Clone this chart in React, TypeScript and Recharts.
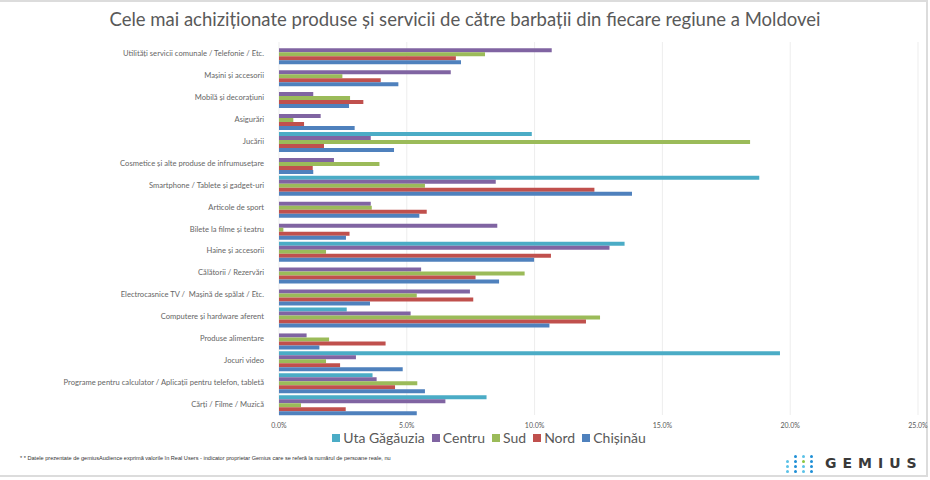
import React from 'react';
import { BarChart, Bar, XAxis, YAxis, CartesianGrid } from 'recharts';

const categories = [
  'Utilități servicii comunale / Telefonie / Etc.',
  'Mașini și accesorii',
  'Mobilă și decorațiuni',
  'Asigurări',
  'Jucării',
  'Cosmetice și alte produse de infrumusețare',
  'Smartphone / Tablete și gadget-uri',
  'Articole de sport',
  'Bilete la filme și teatru',
  'Haine și accesorii',
  'Călătorii / Rezervări',
  'Electrocasnice TV /  Mașină de spălat / Etc.',
  'Computere și hardware aferent',
  'Produse alimentare',
  'Jocuri video',
  'Programe pentru calculator / Aplicații pentru telefon, tabletă',
  'Cărți / Filme / Muzică',
];

const utaGagauzia = [0, 0, 0, 0, 9.89, 0, 18.79, 0, 0, 13.52, 0, 0, 2.65, 0, 19.6, 3.66, 8.12];
const centru = [10.67, 6.72, 1.34, 1.63, 3.59, 2.15, 8.48, 3.59, 8.54, 12.93, 5.56, 7.47, 5.15, 1.08, 3.01, 3.82, 6.51];
const sud = [8.06, 2.48, 2.78, 0.56, 18.43, 3.93, 5.71, 3.63, 0.17, 1.84, 9.61, 5.39, 12.56, 1.96, 1.84, 5.41, 0.86];
const nord = [6.92, 3.98, 3.3, 0.98, 1.76, 1.32, 12.34, 5.78, 2.76, 10.64, 7.69, 7.6, 12.01, 4.17, 2.39, 4.54, 2.61];
const chisinau = [7.12, 4.67, 2.74, 2.96, 4.5, 1.34, 13.81, 5.49, 2.62, 9.98, 8.61, 3.56, 10.58, 1.58, 4.84, 5.71, 5.39];

const xTicks = [0, 5, 10, 15, 20, 25];

const series = [
  { key: 'uta', name: 'Uta Găgăuzia', color: '#4BACC6', values: utaGagauzia },
  { key: 'centru', name: 'Centru', color: '#8064A2', values: centru },
  { key: 'sud', name: 'Sud', color: '#9BBB59', values: sud },
  { key: 'nord', name: 'Nord', color: '#C0504D', values: nord },
  { key: 'chisinau', name: 'Chișinău', color: '#4F81BD', values: chisinau },
];

const data = categories.map((c, i) => {
  const row: Record<string, string | number> = { category: c };
  series.forEach((s) => {
    row[s.key] = s.values[i];
  });
  return row;
});

const FONT = 'Lato, "Open Sans", sans-serif';

const CategoryTick = (props: any) => {
  const { x, y, payload } = props;
  return (
    <text x={x - 7} y={y} dy={3} textAnchor="end" fontSize={7.6} fill="#666" fontFamily={FONT} style={{ whiteSpace: 'pre' }}>
      {payload.value}
    </text>
  );
};

const dotCols = [
  { x: 0, rows: [1, 2, 3], green: -1 },
  { x: 8, rows: [0, 1, 2, 3], green: -1 },
  { x: 16, rows: [0, 1, 2, 3], green: 1 },
  { x: 24, rows: [0, 1, 2, 3], green: -1 },
];

export default function App() {
  return (
    <div style={{ position: 'absolute', left: 0, top: 0, width: 930, height: 480, background: '#fff', overflow: 'hidden', fontFamily: FONT }}>
      <div style={{ position: 'absolute', left: 0, top: 0, width: 928, height: 477, borderTop: '2px solid #dcdcdc', borderRight: '2px solid #dcdcdc', borderBottom: '2px solid #dcdcdc', boxSizing: 'border-box' }} />
      <div style={{ position: 'absolute', left: 0, top: 8, width: 930, textAlign: 'center', fontSize: 18.5, color: '#595959', fontFamily: FONT }}>
        Cele mai achiziționate produse și servicii de către barbații din fiecare regiune a Moldovei
      </div>
      <div style={{ position: 'absolute', left: 0, top: 0 }}>
        <BarChart
          width={930}
          height={480}
          data={data}
          layout="vertical"
          margin={{ top: 42, right: 12, left: 0, bottom: 45 }}
          barCategoryGap="10%"
          barGap={0}
        >
          <CartesianGrid horizontal={false} vertical stroke="#EDEDED" />
          <XAxis
            type="number"
            domain={[0, 25]}
            ticks={xTicks}
            tickFormatter={(v: number) => v.toFixed(1) + '%'}
            axisLine={false}
            tickLine={false}
            height={20}
            tick={{ fontSize: 7, fill: '#595959', fontFamily: FONT }}
            interval={0}
          />
          <YAxis
            type="category"
            dataKey="category"
            width={279}
            axisLine={false}
            tickLine={false}
            interval={0}
            tick={<CategoryTick />}
          />
          {series.map((s) => (
            <Bar key={s.key} dataKey={s.key} name={s.name} fill={s.color} isAnimationActive={false} />
          ))}
        </BarChart>
      </div>
      <div style={{ position: 'absolute', left: 24, top: 429, width: 930, display: 'flex', justifyContent: 'center', gap: 7, fontSize: 14, color: '#595959' }}>
        {series.map((s) => (
          <div key={s.key} style={{ display: 'flex', alignItems: 'center' }}>
            <span style={{ display: 'inline-block', width: 8, height: 8, background: s.color, marginRight: 3 }} />
            <span>{s.name}</span>
          </div>
        ))}
      </div>
      <div style={{ position: 'absolute', left: 20, top: 455, fontSize: 5.6, color: '#333', fontFamily: '"Liberation Sans", Arial, sans-serif', whiteSpace: 'nowrap' }}>
        * * Datele prezentate de gemiusAudience exprimă valorile în Real Users - indicator proprietar Gemius care se referă la numărul de persoane reale, nu
      </div>
      <div style={{ position: 'absolute', left: 786, top: 455 }}>
        {dotCols.map((c, ci) =>
          c.rows.map((r) => (
            <span
              key={ci + '-' + r}
              style={{
                position: 'absolute',
                left: c.x,
                top: r * 5,
                width: 3,
                height: 3,
                borderRadius: 2,
                background: r === c.green ? '#8CC63F' : ci % 2 === 0 ? '#5BC2E7' : '#1F8FD6',
              }}
            />
          ))
        )}
      </div>
      <div style={{ position: 'absolute', left: 825, top: 455, fontSize: 14, fontWeight: 700, letterSpacing: 6, color: '#3a3a3a', fontFamily: '"DejaVu Sans", sans-serif' }}>
        GEMIUS
      </div>
    </div>
  );
}
